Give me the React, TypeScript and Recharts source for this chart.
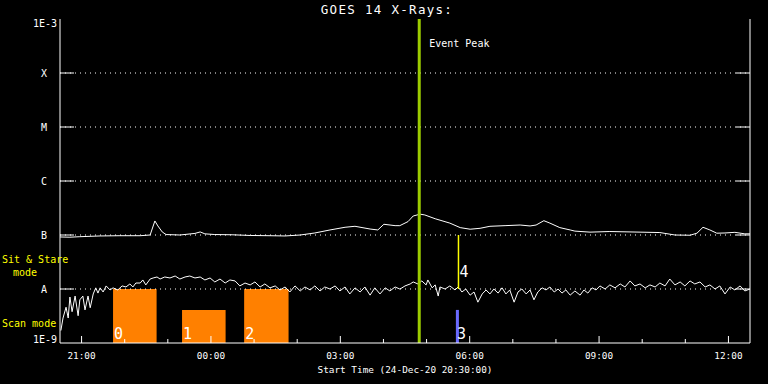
import React from 'react';
import { ComposedChart, Line, XAxis, YAxis, ReferenceArea, ReferenceLine } from 'recharts';

const FONT = '"DejaVu Sans Mono", monospace';

// hours after 24-Dec-20 20:30:00
const longTimes = [
  0, 0.23, 0.46, 0.93, 1.39, 1.86, 2.09, 2.2, 2.27, 2.37,
  2.46, 2.78, 3.13, 3.25, 3.36, 3.59, 3.99, 4.41, 4.87, 5.22,
  5.57, 5.91, 6.26, 6.61, 6.84, 7.19, 7.37, 7.51, 7.77, 7.88,
  8.07, 8.19, 8.35, 8.46, 8.7, 9.04, 9.28, 9.51, 9.74, 9.97,
  10.32, 10.67, 10.9, 11.04, 11.22, 11.36, 11.59, 11.83, 11.94, 12.29,
  12.75, 13.45, 13.91, 14.26, 14.61, 14.77, 14.91, 15.07, 15.23, 15.42,
  15.65, 15.88, 16.0,
];
// long channel, units of 1e-7 W/m2
const longFlux = [
  0.92, 0.91, 0.93, 0.96, 0.97, 0.97, 1.0, 1.82, 1.47, 1.14,
  1.02, 1.0, 1.07, 1.14, 1.05, 1.02, 1.01, 0.98, 0.97, 0.96,
  1.0, 1.09, 1.24, 1.39, 1.45, 1.29, 1.24, 1.58, 1.49, 1.49,
  1.77, 2.25, 2.43, 2.35, 2.0, 1.66, 1.37, 1.28, 1.33, 1.45,
  1.49, 1.53, 1.47, 1.53, 1.84, 1.66, 1.37, 1.24, 1.18, 1.13,
  1.16, 1.13, 1.11, 1.0, 0.99, 1.08, 1.39, 1.24, 1.08, 1.09,
  1.12, 1.05, 1.05,
];

const shortTimes = [
  0.02, 0.07, 0.14, 0.19, 0.23, 0.28, 0.35, 0.42, 0.46, 0.53,
  0.58, 0.65, 0.7, 0.77, 0.83, 0.88, 0.93, 1.0, 1.07, 1.16,
  1.23, 1.34, 1.44, 1.53, 1.62, 1.69, 1.76, 1.86, 1.92, 1.99,
  2.09, 2.16, 2.25, 2.32, 2.43, 2.55, 2.67, 2.78, 2.9, 3.01,
  3.13, 3.25, 3.36, 3.48, 3.59, 3.71, 3.83, 3.94, 4.06, 4.17,
  4.29, 4.41, 4.52, 4.64, 4.75, 4.87, 4.99, 5.1, 5.22, 5.33,
  5.45, 5.57, 5.68, 5.8, 5.91, 6.03, 6.14, 6.26, 6.38, 6.49,
  6.61, 6.72, 6.84, 6.96, 7.07, 7.19, 7.3, 7.42, 7.54, 7.65,
  7.77, 7.88, 7.93, 8.0, 8.12, 8.19, 8.3, 8.39, 8.49, 8.53,
  8.63, 8.7, 8.77, 8.81, 8.93, 9.04, 9.16, 9.23, 9.32, 9.41,
  9.51, 9.6, 9.69, 9.79, 9.88, 9.97, 10.06, 10.16, 10.25, 10.34,
  10.43, 10.53, 10.62, 10.71, 10.81, 10.9, 10.99, 11.08, 11.18, 11.27,
  11.36, 11.46, 11.55, 11.64, 11.73, 11.83, 11.94, 12.06, 12.15, 12.24,
  12.34, 12.43, 12.52, 12.64, 12.75, 12.87, 12.99, 13.1, 13.22, 13.33,
  13.45, 13.57, 13.68, 13.8, 13.91, 14.03, 14.14, 14.26, 14.38, 14.49,
  14.61, 14.72, 14.84, 14.96, 15.07, 15.19, 15.3, 15.42, 15.54, 15.65,
  15.77, 15.88, 16.0,
];
// short channel, units of 1e-8 W/m2
const shortFlux = [
  0.17, 0.29, 0.46, 0.29, 0.71, 0.38, 0.74, 0.32, 0.63, 0.74,
  0.41, 0.74, 0.45, 0.81, 1.05, 0.84, 1.05, 0.88, 1.14, 0.96,
  1.05, 0.96, 1.14, 1.09, 1.24, 1.09, 1.29, 1.29, 1.47, 1.19,
  1.53, 1.6, 1.67, 1.53, 1.67, 1.6, 1.74, 1.53, 1.67, 1.74,
  1.6, 1.67, 1.47, 1.6, 1.35, 1.53, 1.29, 1.47, 1.41, 1.14,
  1.29, 1.19, 1.35, 1.09, 1.24, 1.05, 1.14, 0.96, 1.09, 0.88,
  1.14, 0.92, 1.09, 0.96, 1.14, 0.92, 1.09, 1.0, 1.14, 0.92,
  1.09, 0.81, 1.05, 0.88, 1.09, 0.77, 1.05, 0.81, 1.05, 0.92,
  1.09, 1.0, 1.05, 1.14, 1.24, 1.35, 1.24, 1.41, 1.19, 1.47,
  1.05, 1.19, 0.74, 1.09, 1.0, 1.14, 0.96, 1.09, 0.88, 1.0,
  0.77, 0.88, 0.57, 0.81, 0.96, 0.81, 1.0, 0.84, 1.05, 0.81,
  0.96, 0.57, 0.88, 1.0, 0.81, 0.96, 0.63, 0.88, 1.05, 0.96,
  1.09, 0.88, 1.0, 0.84, 0.96, 0.77, 0.92, 0.77, 0.96, 0.84,
  1.05, 0.96, 1.14, 1.0, 1.19, 1.05, 1.24, 1.09, 1.41, 1.14,
  1.24, 1.05, 1.19, 1.09, 1.29, 1.14, 1.53, 1.19, 1.35, 1.14,
  1.41, 1.24, 1.35, 1.09, 1.19, 1.0, 1.14, 0.81, 1.09, 0.96,
  1.14, 0.92, 1.0,
];

const hourTicks = [0.5, 1.5, 2.5, 3.5, 4.5, 5.5, 6.5, 7.5, 8.5, 9.5, 10.5, 11.5, 12.5, 13.5, 14.5, 15.5];
const majorHours = [0.5, 3.5, 6.5, 9.5, 12.5, 15.5];
const majorLabels = ['21:00', '00:00', '03:00', '06:00', '09:00', '12:00'];

const levelValues = [1e-9, 1e-8, 1e-7, 1e-6, 1e-5, 1e-4, 1e-3];
const levelLabels = ['1E-9', 'A', 'B', 'C', 'M', 'X', '1E-3'];
const gridLevels = [1e-8, 1e-7, 1e-6, 1e-5, 1e-4];

// observing mode blocks
const modeStarts = [1.23, 2.83, 4.27, 9.18];
const modeEnds = [2.24, 3.84, 5.3, 9.25];
const modeTops = [1e-8, 4.1e-9, 1e-8, 4.1e-9];
const modeNames = ['0', '1', '2', '3'];

const eventPeakHour = 8.33;
const marker4Hour = 9.24;
const marker4Low = 1e-8;
const marker4High = 1e-7;

const longData = longTimes.map((t, i) => ({ t, flux: longFlux[i] * 1e-7 }));
const shortData = shortTimes.map((t, i) => ({ t, flux: shortFlux[i] * 1e-8 }));

function BottomTick(props: any) {
  const { x, y, payload } = props;
  const i = majorHours.indexOf(payload.value);
  const len = i >= 0 ? 7 : 4;
  return (
    <g>
      <line x1={x} x2={x} y1={y} y2={y - len} stroke="#fff" />
      {i >= 0 && (
        <text x={x} y={y + 16} textAnchor="middle" fill="#fff" fontSize={9.4} fontFamily={FONT}>
          {majorLabels[i]}
        </text>
      )}
    </g>
  );
}

function TopTick(props: any) {
  const { x, y, payload } = props;
  const len = majorHours.includes(payload.value) ? 7 : 4;
  return <line x1={x} x2={x} y1={y} y2={y + len} stroke="#fff" />;
}

function LeftTick(props: any) {
  const { x, y, payload } = props;
  const i = levelValues.indexOf(payload.value);
  const last = levelValues.length - 1;
  const end = i === 0 || i === last;
  const baseY = i === 0 ? y : i === last ? y + 8 : y + 4;
  return (
    <g>
      {!end && <line x1={x} x2={x + 14} y1={y} y2={y} stroke="#fff" />}
      <text x={end ? x - 3 : x - 16} y={baseY} textAnchor={end ? 'end' : 'middle'} fill="#fff" fontSize={10} fontFamily={FONT}>
        {levelLabels[i]}
      </text>
    </g>
  );
}

function RightTick(props: any) {
  const { x, y, payload } = props;
  const i = levelValues.indexOf(payload.value);
  if (i === 0 || i === levelValues.length - 1) return <g />;
  return <line x1={x - 14} x2={x} y1={y} y2={y} stroke="#fff" />;
}

export default function App() {
  return (
    <div style={{ position: 'absolute', left: 0, top: 0, width: 768, height: 384, background: '#000' }}>
      <ComposedChart width={768} height={384} margin={{ top: 19, right: 0, bottom: 0, left: 0 }}>
        <XAxis xAxisId="bottom" dataKey="t" type="number" domain={[0, 16]} allowDataOverflow ticks={hourTicks} interval={0}
          height={41} tickSize={0} tickMargin={0} axisLine={{ stroke: '#fff' }} tickLine={false} tick={(p: any) => <BottomTick {...p} />} />
        <XAxis xAxisId="top" orientation="top" dataKey="t" type="number" domain={[0, 16]} allowDataOverflow ticks={hourTicks} interval={0}
          height={0} tickSize={0} tickMargin={0} axisLine={{ stroke: '#fff' }} tickLine={false} tick={(p: any) => <TopTick {...p} />} />
        <YAxis yAxisId="left" type="number" scale="log" domain={[1e-9, 1e-3]} allowDataOverflow ticks={levelValues} interval={0}
          width={60} tickSize={0} tickMargin={0} axisLine={{ stroke: '#fff' }} tickLine={false} tick={(p: any) => <LeftTick {...p} />} />
        <YAxis yAxisId="right" orientation="right" type="number" scale="log" domain={[1e-9, 1e-3]} allowDataOverflow ticks={levelValues} interval={0}
          width={18} tickSize={0} tickMargin={0} axisLine={{ stroke: '#fff' }} tickLine={false} tick={(p: any) => <RightTick {...p} />} />

        {gridLevels.map((v) => (
          <ReferenceLine key={v} xAxisId="bottom" yAxisId="left" y={v} stroke="#fff" strokeDasharray="1 4" />
        ))}

        {modeStarts.map((s, i) => (
          <ReferenceArea key={modeNames[i]} xAxisId="bottom" yAxisId="left" x1={s} x2={modeEnds[i]} y1={1e-9} y2={modeTops[i]}
            fill={i < 3 ? '#ff8000' : '#6a6aff'} fillOpacity={1} stroke="none"
            label={{
              content: (lp: any) => (
                <text x={lp.viewBox.x + 1} y={lp.viewBox.y + lp.viewBox.height - 4} fill="#fff" fontSize={15} fontFamily={FONT}>
                  {modeNames[i]}
                </text>
              ),
            }} />
        ))}

        <Line xAxisId="bottom" yAxisId="left" data={longData} dataKey="flux" type="linear" stroke="#fff" strokeWidth={1} dot={false} isAnimationActive={false} />
        <Line xAxisId="bottom" yAxisId="left" data={shortData} dataKey="flux" type="linear" stroke="#fff" strokeWidth={1} dot={false} isAnimationActive={false} />

        <ReferenceLine xAxisId="bottom" yAxisId="left" segment={[{ x: marker4Hour, y: marker4High }, { x: marker4Hour, y: marker4Low }]}
          stroke="#ffff00" strokeWidth={1.5}
          label={{
            content: (lp: any) => (
              <text x={lp.viewBox.x + 1} y={lp.viewBox.y + 42} fill="#fff" fontSize={15} fontFamily={FONT}>4</text>
            ),
          }} />
        <ReferenceLine xAxisId="bottom" yAxisId="left" x={eventPeakHour} stroke="#9ccc00" strokeWidth={3}
          label={{
            content: (lp: any) => (
              <text x={lp.viewBox.x + 10} y={lp.viewBox.y + 28} fill="#fff" fontSize={10} fontFamily={FONT}>Event Peak</text>
            ),
          }} />
      </ComposedChart>
      <svg width={768} height={384} style={{ position: 'absolute', left: 0, top: 0, pointerEvents: 'none' }}>
        <text x={387} y={14} textAnchor="middle" fill="#fff" fontSize={12.5} fontFamily={FONT} letterSpacing={1.3}>GOES 14 X-Rays:</text>
        <text x={2} y={263} fill="#ffff00" fontSize={10} fontFamily={FONT}>Sit &amp; Stare</text>
        <text x={13} y={276} fill="#ffff00" fontSize={10} fontFamily={FONT}>mode</text>
        <text x={2} y={327} fill="#ffff00" fontSize={10} fontFamily={FONT}>Scan mode</text>
        <text x={405} y={373} textAnchor="middle" fill="#fff" fontSize={9.4} fontFamily={FONT}>Start Time (24-Dec-20 20:30:00)</text>
      </svg>
    </div>
  );
}
